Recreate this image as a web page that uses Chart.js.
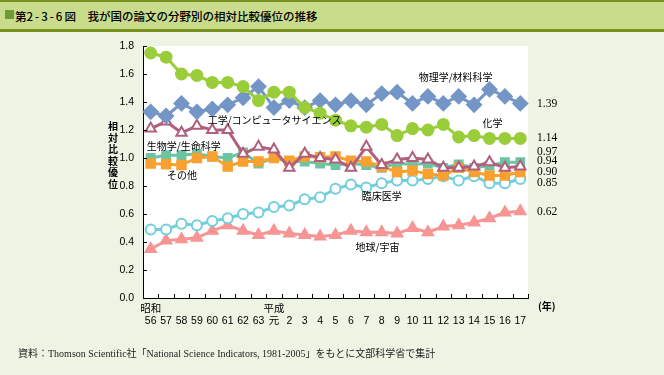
<!DOCTYPE html>
<html><head><meta charset="utf-8">
<script src="https://cdn.jsdelivr.net/npm/chart.js@4/dist/chart.umd.min.js"></script>
<style>
html,body{margin:0;padding:0;}
body{width:664px;height:375px;background:#eef4e4;position:relative;overflow:hidden;font-family:"Noto Sans CJK JP",sans-serif;color:#000;}
#band{position:absolute;left:0;top:0;width:664px;height:27px;background:#c9dc8c;border-top:2px solid #7a901e;border-bottom:3px solid #7a901e;}
#sq{position:absolute;left:5px;top:10px;width:9px;height:9px;background:#6f9a36;}
#title{position:absolute;left:15px;top:8px;font-size:11.5px;line-height:16px;white-space:nowrap;font-weight:500;}
#title .num{letter-spacing:2px;}
#chart{position:absolute;left:0;top:0;}
#ytitle{position:absolute;left:106px;top:120px;width:14px;font-size:10px;line-height:11.6px;text-align:center;font-weight:bold;}
#nen{position:absolute;left:538px;top:299px;font-size:10px;line-height:14px;font-weight:bold;}
#note{position:absolute;left:18px;top:346px;font-size:10px;line-height:16px;white-space:nowrap;font-family:"Liberation Serif","Noto Sans CJK JP",serif;color:#222;}
</style></head>
<body>
<div id="band"></div>
<div id="sq"></div>
<div id="title">第<span class="num">2-3-6</span>図　我が国の論文の分野別の相対比較優位の推移</div>
<canvas id="chart" width="664" height="375"></canvas>
<div id="ytitle">相<br>対<br>比<br>較<br>優<br>位</div>
<div id="nen">(年)</div>
<div id="note">資料：Thomson Scientific社「National Science Indicators, 1981-2005」をもとに文部科学省で集計</div>
<script>
// ---- data ----
const eras = ['昭和','','','','','','','','平成','','','','','','','','','','','','','','','',''];
const years = ['56','57','58','59','60','61','62','63','元','2','3','4','5','6','7','8','9','10','11','12','13','14','15','16','17'];
const chemistry   = [1.75,1.72,1.60,1.59,1.54,1.54,1.51,1.41,1.47,1.47,1.36,1.32,1.27,1.23,1.22,1.24,1.16,1.21,1.20,1.24,1.15,1.16,1.14,1.14,1.14];
const physics     = [1.33,1.30,1.39,1.33,1.35,1.38,1.43,1.51,1.36,1.41,1.36,1.41,1.38,1.41,1.38,1.46,1.47,1.39,1.44,1.39,1.44,1.38,1.49,1.44,1.39];
const engineering = [1.21,1.26,1.18,1.23,1.20,1.20,1.03,1.08,1.06,0.93,1.03,1.00,0.99,0.93,1.08,0.95,0.99,1.00,0.99,0.93,0.93,0.94,0.97,0.93,0.94];
const biology     = [1.00,1.02,1.02,1.03,1.01,1.00,1.04,0.96,1.00,0.975,0.975,0.96,0.95,0.96,0.95,0.93,0.96,0.955,0.96,0.93,0.955,0.93,0.945,0.97,0.97];
const others      = [0.96,0.955,0.95,1.00,1.01,0.94,0.975,0.975,1.00,0.98,1.01,1.005,1.01,0.98,0.975,0.94,0.90,0.91,0.885,0.875,0.93,0.90,0.875,0.875,0.90];
const clinical    = [0.49,0.49,0.53,0.52,0.55,0.57,0.60,0.61,0.65,0.66,0.705,0.72,0.78,0.81,0.79,0.82,0.84,0.84,0.85,0.87,0.84,0.87,0.82,0.82,0.85];
const earth       = [0.35,0.41,0.42,0.43,0.48,0.52,0.48,0.45,0.48,0.46,0.45,0.44,0.45,0.48,0.47,0.47,0.46,0.50,0.47,0.51,0.52,0.54,0.57,0.61,0.62];
const yTicks = [0,0.2,0.4,0.6,0.8,1.0,1.2,1.4,1.6,1.8];

// series name labels: [text, category position, value position, align]
const seriesLabels = [
  ['物理学/材料科学', 19.8, 1.58, 'center'],
  ['化学', 22.2, 1.25, 'center'],
  ['工学/コンピュータサイエンス', 3.7, 1.27, 'left'],
  ['生物学/生命科学', -0.25, 1.086, 'left'],
  ['その他', 1.06, 0.88, 'left'],
  ['臨床医学', 13.7, 0.73, 'left'],
  ['地球/宇宙', 13.3, 0.364, 'left']
];
// end value labels: [text, value position of text]
const endLabels = [
  ['1.39', 1.385], ['1.14', 1.14], ['0.97', 1.045], ['0.94', 0.98], ['0.90', 0.90], ['0.85', 0.82], ['0.62', 0.615]
];

const labels = years.map((y,i)=>[eras[i], y]);

function ds(data, color, style, radius, fill){
  return {data, borderColor:color, backgroundColor:fill||color, pointBackgroundColor:fill||color,
    pointBorderColor:color, pointStyle:style, pointRadius:radius, pointBorderWidth:2,
    borderWidth:3, tension:0, pointHoverRadius:radius};
}

const bgPlugin = {
  id:'bg',
  beforeDraw(chart){
    const {ctx, chartArea:a} = chart;
    ctx.save(); ctx.fillStyle='#ffffff';
    ctx.fillRect(a.left, a.top, a.right-a.left, a.bottom-a.top);
    ctx.restore();
  },
  afterDraw(chart){
    const {ctx, chartArea:a, scales:{x,y}} = chart;
    ctx.save();
    ctx.strokeStyle='#000'; ctx.lineWidth=1;
    ctx.beginPath();
    yTicks.forEach(v=>{ const py=Math.round(y.getPixelForValue(v))+0.5; ctx.moveTo(a.left, py); ctx.lineTo(a.left+4, py); });
    for(let i=0;i<=years.length;i++){ const px=Math.round(x.getPixelForValue(i-0.5))+0.5; ctx.moveTo(px, a.bottom); ctx.lineTo(px, a.bottom-4); }
    ctx.stroke();
    ctx.fillStyle='#000';
    ctx.font='10px "Noto Sans CJK JP", sans-serif';
    ctx.textBaseline='middle';
    seriesLabels.forEach(([t,ix,v,al])=>{ ctx.textAlign=al; ctx.fillText(t, x.getPixelForValue(ix), y.getPixelForValue(v)); });
    ctx.font='11.5px "Liberation Serif", serif';
    ctx.textAlign='left';
    endLabels.forEach(([t,v])=>{ ctx.fillText(t, a.right+9, y.getPixelForValue(v)); });
    ctx.restore();
  }
};

new Chart(document.getElementById('chart'), {
  type:'line',
  data:{ labels, datasets:[
    ds(chemistry,'#9acd3a','circle',5.5),
    ds(physics,'#7496c6','rectRot',7),
    ds(engineering,'#b0607e','triangle',6,'#ffffff'),
    ds(others,'#f8a030','rect',6),
    ds(biology,'#6cc4a2','rect',5.5),
    ds(clinical,'#72cfdc','circle',5,'#ffffff'),
    ds(earth,'#f79494','triangle',6)
  ]},
  options:{
    responsive:false, animation:false, devicePixelRatio:1,
    layout:{padding:{left:0, top:46, right:136, bottom:37}},
    plugins:{legend:{display:false}, tooltip:{enabled:false}},
    scales:{
      x:{offset:true, grid:{display:false, drawTicks:false}, border:{display:true, color:'#000', width:1},
         ticks:{color:'#000', padding:5, maxRotation:0, autoSkip:false,
                font:{size:10.5, family:'"Liberation Sans Narrow","Liberation Sans","Noto Sans CJK JP",sans-serif', lineHeight:1.15}},
         afterFit(s){ s.height=40; }},
      y:{min:0, max:1.8, grid:{display:false, drawTicks:false}, border:{display:true, color:'#000', width:1},
         ticks:{stepSize:0.2, color:'#000', padding:9, callback:v=>Number(v).toFixed(1),
                font:{size:10.5, family:'"Liberation Sans Narrow","Liberation Sans",sans-serif'}},
         afterFit(s){ s.width=143; }}
    }
  },
  plugins:[bgPlugin]
});
</script>
</body></html>
